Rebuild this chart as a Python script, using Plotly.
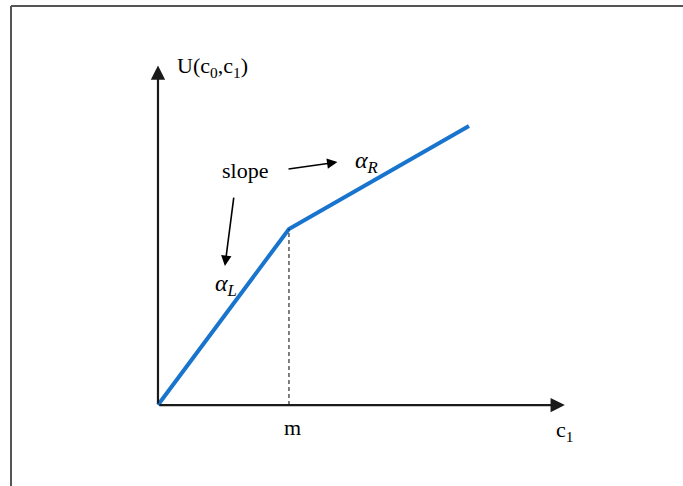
import plotly.graph_objects as go

# piecewise-linear utility: origin, kink at c1 = m, end point
c1_vals = [0.0, 1.0, 2.374]
u_vals = [0.0, 1.0, 1.585]
m_val = 1.0

# axis extents (data units)
x_axis_end = 3.106
y_axis_end = 1.929

fig = go.Figure()

# utility curve
fig.add_trace(go.Scatter(x=c1_vals, y=u_vals, mode="lines",
                         line=dict(color="#1874CD", width=4),
                         hoverinfo="skip", showlegend=False))

# dashed drop line at m
fig.add_trace(go.Scatter(x=[m_val, m_val], y=[0, u_vals[1]], mode="lines",
                         line=dict(color="black", width=1, dash="4px,3px"),
                         hoverinfo="skip", showlegend=False))

serif = "Liberation Serif"
anns = []
# axes as arrows
for tip in [(x_axis_end, 0), (0, y_axis_end)]:
    anns.append(dict(x=tip[0], y=tip[1], ax=0, ay=0, xref="x", yref="y", axref="x", ayref="y",
                     showarrow=True, arrowhead=2, arrowsize=1.3, arrowwidth=2.2,
                     arrowcolor="#1a1a1a", text=""))
# slope arrows
anns.append(dict(x=1.37, y=1.38, ax=0.985, ay=1.34, xref="x", yref="y", axref="x", ayref="y",
                 showarrow=True, arrowhead=2, arrowsize=1.3, arrowwidth=1.6,
                 arrowcolor="black", text=""))
anns.append(dict(x=0.511, y=0.79, ax=0.58, ay=1.187, xref="x", yref="y", axref="x", ayref="y",
                 showarrow=True, arrowhead=2, arrowsize=1.3, arrowwidth=1.6,
                 arrowcolor="black", text=""))

# labels
labels = [
    ("U(c<sub>0</sub>,c<sub>1</sub>)", 0.415, 1.92, 22),
    ("slope", 0.665, 1.33, 22),
    ("m", 1.025, -0.13, 22),
    ("c<sub>1</sub>", 3.1, -0.15, 22),
    ("<i>α<sub>R</sub></i>", 1.59, 1.38, 24),
    ("<i>α<sub>L</sub></i>", 0.52, 0.68, 24),
]
for txt, lx, ly, fs in labels:
    anns.append(dict(x=lx, y=ly, xref="x", yref="y", text=txt, showarrow=False,
                     font=dict(family=serif, size=fs, color="black")))

fig.update_layout(
    width=683, height=486,
    margin=dict(l=0, r=0, t=0, b=0),
    paper_bgcolor="white", plot_bgcolor="white",
    xaxis=dict(range=[-1.206, 4.008], visible=False, fixedrange=True),
    yaxis=dict(range=[-0.460, 2.301], visible=False, fixedrange=True),
    annotations=anns,
    shapes=[
        dict(type="line", xref="paper", yref="paper", x0=11 / 683, x1=1, y0=1 - 6 / 486, y1=1 - 6 / 486,
             line=dict(color="#555", width=2)),
        dict(type="line", xref="paper", yref="paper", x0=11 / 683, x1=11 / 683, y0=0, y1=1 - 6 / 486,
             line=dict(color="#555", width=2)),
    ],
)

fig.write_html("out.html", config={"displayModeBar": False},
               post_script="document.body.style.margin='0';")
